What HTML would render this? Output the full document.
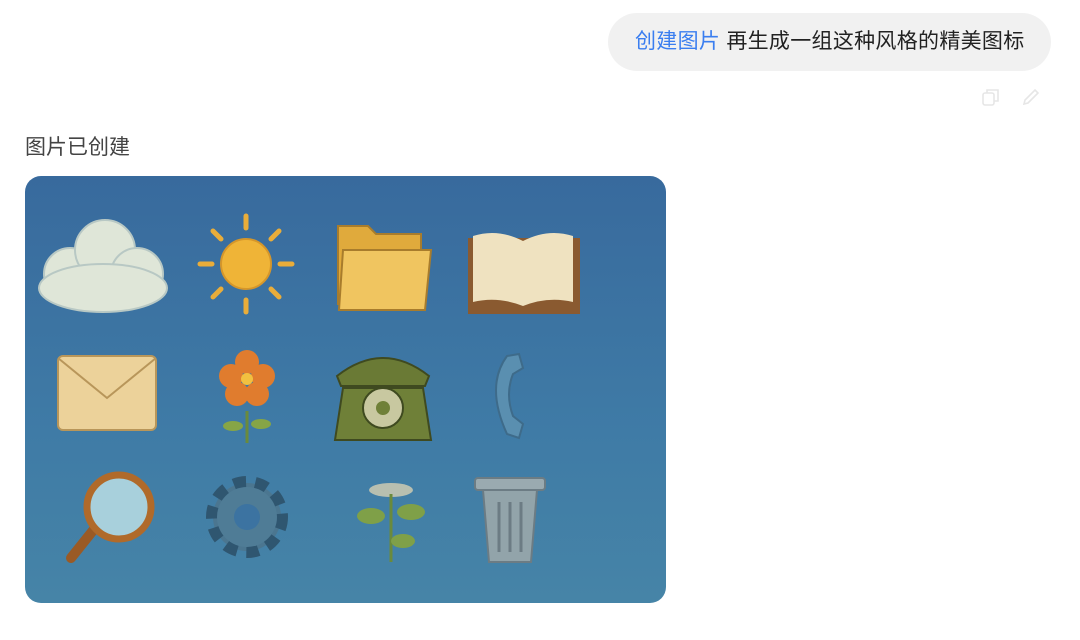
<!DOCTYPE html>
<html><head><meta charset="utf-8"><style>
body{margin:0;width:1080px;height:640px;background:#fff;font-family:"Liberation Sans","Noto Sans CJK SC",sans-serif;position:relative;overflow:hidden}
.bubble{position:absolute;left:608px;top:13px;width:443px;height:58px;border-radius:29px;background:#f1f1f1;box-sizing:border-box;padding-left:27px;line-height:58px;font-size:21px;letter-spacing:0.3px;color:#222}
.bubble .tag{color:#3a7ef0}
.status{position:absolute;left:25px;top:131px;font-size:21px;color:#444}
.img{position:absolute;left:25px;top:176px;width:641px;height:427px;border-radius:16px;overflow:hidden;background:linear-gradient(180deg,#386a9d 0%,#3f7ba6 60%,#4684a7 100%)}
</style></head><body>
<div class="bubble"><span class="tag">创建图片</span> 再生成一组这种风格的精美图标</div>
<svg style="position:absolute;left:981px;top:87px" width="20" height="20" viewBox="0 0 20 20" fill="none" stroke="#e6e6e6" stroke-width="1.6"><rect x="2" y="6" width="11" height="12" rx="2"/><path d="M6 6V3h11v11h-4"/></svg>
<svg style="position:absolute;left:1021px;top:87px" width="20" height="20" viewBox="0 0 20 20" fill="none" stroke="#e6e6e6" stroke-width="1.6"><path d="M3 17l1-4L14 3l3 3L7 16z"/></svg>
<div class="status">图片已创建</div>
<div class="img">
<svg width="641" height="427" viewBox="0 0 641 427">
<g fill="#dfe6d8" stroke="#b8c8c4" stroke-width="2"><circle cx="45" cy="98" r="26"/><circle cx="80" cy="74" r="30"/><circle cx="112" cy="98" r="26"/><ellipse cx="78" cy="112" rx="64" ry="24"/></g>
<g><circle cx="221" cy="88" r="25" fill="#efb437" stroke="#d5962a" stroke-width="2"/><g stroke="#e9ad3a" stroke-width="5" stroke-linecap="round"><line x1="221" y1="40" x2="221" y2="52"/><line x1="221" y1="124" x2="221" y2="136"/><line x1="175" y1="88" x2="187" y2="88"/><line x1="255" y1="88" x2="267" y2="88"/><line x1="188" y1="55" x2="196" y2="63"/><line x1="246" y1="113" x2="254" y2="121"/><line x1="254" y1="55" x2="246" y2="63"/><line x1="196" y1="113" x2="188" y2="121"/></g></g>
<g><path d="M313 50h30l8 8h45v70h-83z" fill="#e0aa3c" stroke="#a87c2c" stroke-width="2"/><path d="M318 74h88l-6 60h-86z" fill="#f0c560" stroke="#a87c2c" stroke-width="2"/></g>
<g><rect x="443" y="62" width="112" height="76" fill="#8a5a30"/><path d="M448 60q25-8 50 5v65q-25-10-50-4z" fill="#efe2c0"/><path d="M498 65q25-13 50-5v66q-25-6-50 4z" fill="#efe2c0"/></g>
<g><rect x="33" y="180" width="98" height="74" rx="5" fill="#ecd29a" stroke="#b8965a" stroke-width="2"/><path d="M33 182l49 40 49-40" fill="none" stroke="#b8965a" stroke-width="2"/></g>
<g><path d="M222 235v32" stroke="#6a8a3c" stroke-width="3"/><ellipse cx="208" cy="250" rx="10" ry="5" fill="#86a546"/><ellipse cx="236" cy="248" rx="10" ry="5" fill="#86a546"/><g fill="#e07c2e"><circle cx="222" cy="186" r="12"/><circle cx="206" cy="200" r="12"/><circle cx="238" cy="200" r="12"/><circle cx="212" cy="218" r="12"/><circle cx="232" cy="218" r="12"/></g><circle cx="222" cy="203" r="6" fill="#f2c040"/></g>
<g><path d="M312 200q46-36 92 0l-4 10h-84z" fill="#6a7a35" stroke="#3f4a20" stroke-width="2"/><path d="M318 212h80l8 52h-96z" fill="#6f8038" stroke="#3f4a20" stroke-width="2"/><circle cx="358" cy="232" r="20" fill="#c8c8a0" stroke="#3f4a20" stroke-width="2"/><circle cx="358" cy="232" r="7" fill="#6f8038"/></g>
<g><path d="M482 180q-22 30 0 78l12 4 4-14-10-8q-8-22 0-42l10-6-4-14z" fill="#5a8fb0" stroke="#3e6b8a" stroke-width="2"/></g>
<g><line x1="70" y1="352" x2="46" y2="382" stroke="#9a5a25" stroke-width="10" stroke-linecap="round"/><circle cx="94" cy="331" r="32" fill="#a8d0dc" stroke="#b06a2a" stroke-width="7"/></g>
<g><circle cx="222" cy="341" r="34" fill="#4b7690" stroke="#2f5670" stroke-width="14" stroke-dasharray="12 9"/><circle cx="222" cy="341" r="30" fill="#4f7c96"/><circle cx="222" cy="341" r="13" fill="#3c73a1"/></g>
<g><ellipse cx="366" cy="314" rx="22" ry="7" fill="#b8bfb0"/><path d="M366 318v68" stroke="#6a8a3c" stroke-width="3"/><ellipse cx="346" cy="340" rx="14" ry="8" fill="#7fa048"/><ellipse cx="386" cy="336" rx="14" ry="8" fill="#7fa048"/><ellipse cx="378" cy="365" rx="12" ry="7" fill="#7fa048"/></g>
<g><rect x="450" y="302" width="70" height="12" rx="3" fill="#9aaab0" stroke="#6c7c84" stroke-width="2"/><path d="M458 314h54l-6 72h-42z" fill="#92a4aa" stroke="#6c7c84" stroke-width="2"/><g stroke="#6c7c84" stroke-width="3"><line x1="474" y1="326" x2="474" y2="376"/><line x1="485" y1="326" x2="485" y2="376"/><line x1="496" y1="326" x2="496" y2="376"/></g></g>
</svg>
</div>
</body></html>
